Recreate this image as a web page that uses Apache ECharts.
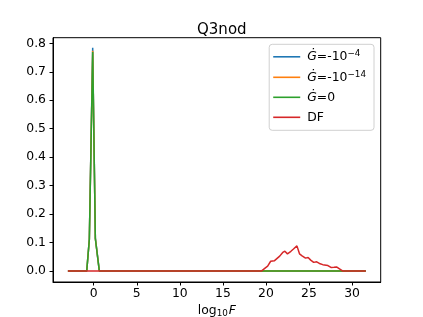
<!DOCTYPE html>
<html>
<head>
<meta charset="utf-8">
<script src="https://cdn.jsdelivr.net/npm/echarts@6/dist/echarts.min.js"></script>
<style>
html,body{margin:0;padding:0;background:#fff;}
#c{width:423px;height:317px;}
</style>
</head>
<body>
<div id="c"></div>
<script>
// ---- data ----
var peakX = [-3.0, -0.81, -0.51, -0.12, 0.19, 0.65, 31.6];
var gNeg4 = [0, 0, 0.112, 0.785, 0.115, 0, 0];
var gNeg14 = [0, 0, 0.110, 0.774, 0.113, 0, 0];
var gZero = [0, 0, 0.110, 0.770, 0.113, 0, 0];
var dfX = [-3.0, 19.5, 19.9, 20.2, 20.55, 21.0, 21.2, 21.6, 21.95, 22.2, 22.5, 22.9, 23.2, 23.6, 23.9, 24.2, 24.6, 24.9, 25.2, 25.55, 25.9, 26.3, 26.6, 27.2, 27.55, 27.9, 28.2, 28.5, 28.9, 31.6];
var dfY = [0, 0, 0.010, 0.017, 0.034, 0.036, 0.038, 0.052, 0.065, 0.069, 0.060, 0.069, 0.077, 0.088, 0.060, 0.053, 0.045, 0.047, 0.038, 0.030, 0.032, 0.025, 0.022, 0.019, 0.012, 0.013, 0.014, 0.008, 0, 0];
var xTicks = [0, 5, 10, 15, 20, 25, 30];
var yTicks = [0, 0.1, 0.2, 0.3, 0.4, 0.5, 0.6, 0.7, 0.8];
var seriesNames = ['gneg4', 'gneg14', 'gzero', 'DF'];
var legendLabels = {
  gneg4: '{i|Ġ}=-10{s|−4}',
  gneg14: '{i|Ġ}=-10{s|−14}',
  gzero: '{i|Ġ}=0',
  DF: 'DF'
};
var colors = ['#1f77b4', '#ff7f0e', '#2ca02c', '#d62728'];

function pairs(xs, ys) { return xs.map(function (x, i) { return [x, ys[i]]; }); }

var font = 'DejaVu Sans';
var chart = echarts.init(document.getElementById('c'), null, {renderer: 'canvas'});
var ysets = [gNeg4, gNeg14, gZero];
var series = [];
for (var k = 0; k < 3; k++) {
  series.push({
    name: seriesNames[k], type: 'line', data: pairs(peakX, ysets[k]),
    showSymbol: false, symbol: 'none', animation: false,
    lineStyle: {color: colors[k], width: 1.5}, itemStyle: {color: colors[k]}, z: 2 + k
  });
}
series.push({
  name: 'DF', type: 'line', data: pairs(dfX, dfY),
  showSymbol: false, symbol: 'none', animation: false,
  lineStyle: {color: colors[3], width: 1.5}, itemStyle: {color: colors[3]}, z: 6
});

chart.setOption({
  animation: false,
  backgroundColor: '#fff',
  title: {
    text: 'Q3nod', left: 216.8, top: 18, textAlign: 'center',
    textStyle: {fontFamily: font, fontSize: 15, fontWeight: 'normal', color: '#000'}
  },
  grid: {left: 53, right: 42.3, top: 37.7, bottom: 35, show: true, borderColor: '#000', borderWidth: 1,
    backgroundColor: 'transparent', containLabel: false, outerBoundsMode: 'none'},
  legend: {
    orient: 'vertical', right: 49, top: 44.3,
    data: seriesNames,
    icon: 'rect', itemWidth: 27, itemHeight: 1.6, itemGap: 6,
    padding: [5, 8, 6, 4],
    backgroundColor: 'rgba(255,255,255,0.8)', borderColor: '#d0d0d0', borderWidth: 1, borderRadius: 3,
    formatter: function (n) { return legendLabels[n]; },
    textStyle: {
      fontFamily: font, fontSize: 12.4, color: '#000', lineHeight: 14, padding: [0, 0, 0, 2],
      rich: {
        i: {fontFamily: font, fontStyle: 'italic', fontSize: 12.4, color: '#000'},
        s: {fontFamily: font, fontSize: 8.8, color: '#000', padding: [0, 0, 6, 0]}
      }
    }
  },
  xAxis: {
    type: 'value', min: -4.73, max: 33.33,
    name: '{n|log}{b|10}{i|F}', nameLocation: 'middle', nameGap: 22,
    nameTextStyle: {
      fontFamily: font, fontSize: 12.4, color: '#000',
      rich: {
        n: {fontFamily: font, fontSize: 12.4, color: '#000'},
        b: {fontFamily: font, fontSize: 8.8, color: '#000', padding: [5, 1, 0, 0]},
        i: {fontFamily: font, fontSize: 12.4, fontStyle: 'italic', color: '#000'}
      }
    },
    splitLine: {show: false},
    axisLine: {show: true, onZero: false, lineStyle: {color: '#000', width: 1}},
    axisTick: {show: true, inside: false, length: 3.5, lineStyle: {color: '#000', width: 1}, customValues: xTicks},
    axisLabel: {show: true, margin: 6, fontFamily: font, fontSize: 12.4, color: '#000', customValues: xTicks,
      formatter: function (v) { return String(v); }}
  },
  yAxis: {
    type: 'value', min: -0.039, max: 0.82,
    splitLine: {show: false},
    axisLine: {show: true, onZero: false, lineStyle: {color: '#000', width: 1}},
    axisTick: {show: true, inside: false, length: 3.5, lineStyle: {color: '#000', width: 1}, customValues: yTicks},
    axisLabel: {show: true, margin: 7, fontFamily: font, fontSize: 12.4, color: '#000', customValues: yTicks,
      formatter: function (v) { return v.toFixed(1); }}
  },
  series: series
});
</script>
</body>
</html>
